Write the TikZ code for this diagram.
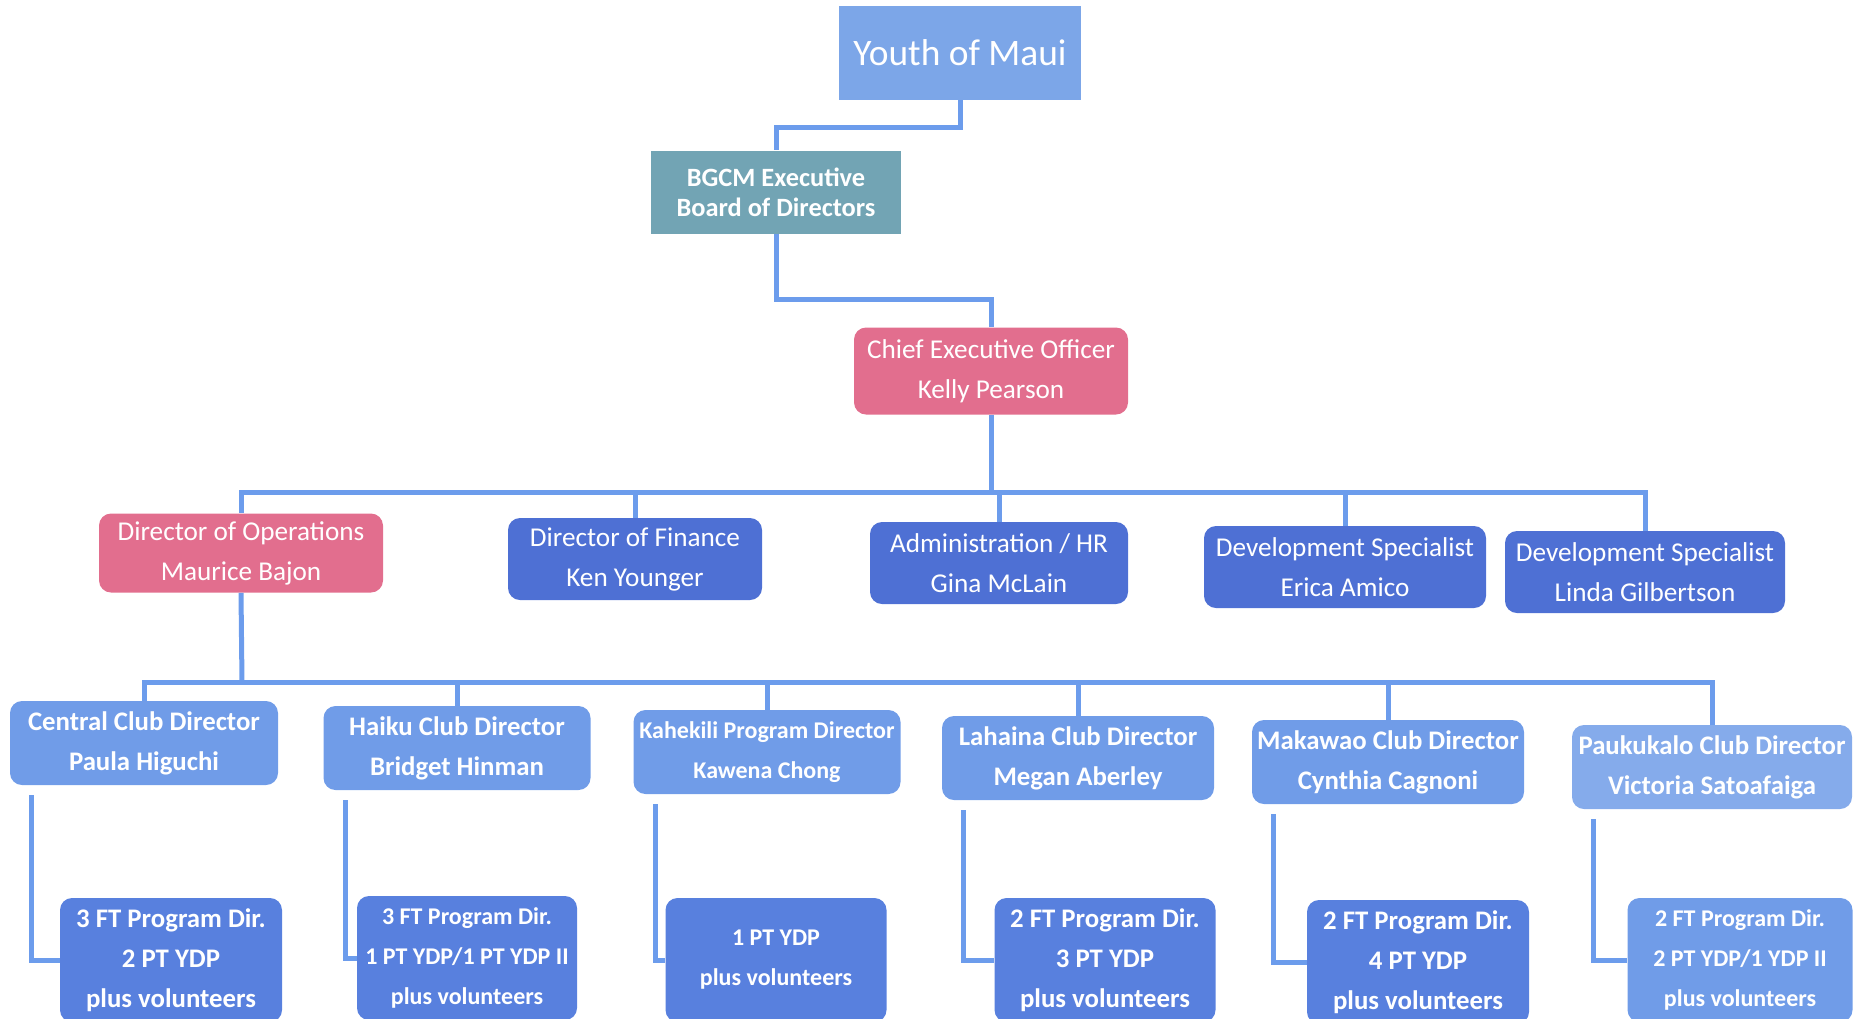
\documentclass[tikz,border=0pt]{standalone}
\usepackage{fontspec}
\setmainfont{Carlito}
\usetikzlibrary{positioning}
\definecolor{youthblue}{RGB}{124,166,232}
\definecolor{boardteal}{RGB}{114,164,180}
\definecolor{ceopink}{RGB}{226,110,142}
\definecolor{dirblue}{RGB}{78,112,212}
\definecolor{clubblue}{RGB}{112,156,232}
\definecolor{staffblue}{RGB}{88,128,222}
\definecolor{linkblue}{RGB}{108,156,236}
\tikzset{
  box/.style={text=white, align=center, inner sep=2pt,
    font=\fontsize{13.6}{20}\selectfont},
  roundbox/.style={box, rounded corners=6pt},
  dirbox/.style={roundbox, fill=dirblue, minimum height=41pt},
  clubbox/.style={roundbox, fill=clubblue, minimum height=42pt,
    font=\bfseries\fontsize{13.4}{20}\selectfont},
  staffbox/.style={roundbox, fill=staffblue, minimum height=62pt,
    minimum width=111pt, font=\bfseries\fontsize{13.4}{20}\selectfont},
  smalltext/.style={font=\bfseries\fontsize{12}{20}\selectfont},
  link/.style={draw=linkblue, line width=2.5pt}
}
\begin{document}
\begin{tikzpicture}[x=0.5pt,y=-0.5pt]
\useasboundingbox (0,0) rectangle (1866,1018);

% top of the chart
\node[box, fill=youthblue, minimum width=121pt, minimum height=47pt,
  font=\fontsize{18.7}{20}\selectfont] (youth) at (960,53) {Youth of Maui};
\node[box, fill=boardteal, minimum width=125pt, minimum height=41.5pt,
  font=\bfseries\fontsize{13.2}{15}\selectfont] (board) at (776,192)
  {BGCM Executive\\Board of Directors};
\node[roundbox, fill=ceopink, minimum width=137pt, minimum height=43.5pt]
  (ceo) at (991,371) {Chief Executive Officer\\Kelly Pearson};

\draw[link] (youth.south) -- ++(0,27) -| (board.north);
\draw[link] (board.south) -- ++(0,66) -| (ceo.north);

% directors
\node[roundbox, fill=ceopink, minimum width=142pt, minimum height=39.5pt]
  (ops) at (241,553) {Director of Operations\\Maurice Bajon};
\node[dirbox, minimum width=127pt] (fin) at (635,559) {Director of Finance\\Ken Younger};
\node[dirbox, minimum width=129pt] (adm) at (999,563) {Administration / HR\\Gina McLain};
\node[dirbox, minimum width=141pt] (devea) at (1345,567) {Development Specialist\\Erica Amico};
\node[dirbox, minimum width=140pt] (devlg) at (1645,572) {Development Specialist\\Linda Gilbertson};

\coordinate (busdir) at (991,492);
\draw[link] (ceo.south) -- (busdir);
\foreach \d in {ops,fin,adm,devea,devlg}
  \draw[link] (busdir) -| (\d.north);

% club directors
\node[clubbox, minimum width=134pt] (central) at (144,743) {Central Club Director\\Paula Higuchi};
\node[clubbox, minimum width=133.5pt] (haiku) at (457,748) {Haiku Club Director\\Bridget Hinman};
\node[clubbox, smalltext, minimum width=133.5pt] (kahekili) at (767,752) {Kahekili Program Director\\Kawena Chong};
\node[clubbox, minimum width=136pt] (lahaina) at (1078,758) {Lahaina Club Director\\Megan Aberley};
\node[clubbox, minimum width=136pt] (makawao) at (1388,762) {Makawao Club Director\\Cynthia Cagnoni};
\node[clubbox, minimum width=140pt, fill=clubblue!85!white] (paukukalo) at (1712,767) {Paukukalo Club Director\\Victoria Satoafaiga};

\coordinate (busclub) at (242,682);
\draw[link] (ops.south) -- (busclub);
\foreach \c in {central,haiku,kahekili,lahaina,makawao,paukukalo}
  \draw[link] (busclub) -| (\c.north);

% staff under each club
\node[staffbox] (scentral) at (171,960) {3 FT Program Dir.\\2 PT YDP\\plus volunteers};
\node[staffbox, smalltext, minimum width=110pt] (shaiku) at (467,958) {3 FT Program Dir.\\1 PT YDP/1 PT YDP II\\plus volunteers};
\node[staffbox, smalltext, minimum width=110.5pt] (skahekili) at (776,960) {1 PT YDP\\plus volunteers};
\node[staffbox, minimum width=110.5pt] (slahaina) at (1105,960) {2 FT Program Dir.\\3 PT YDP\\plus volunteers};
\node[staffbox] (smakawao) at (1418,962) {2 FT Program Dir.\\4 PT YDP\\plus volunteers};
\node[staffbox, smalltext, minimum width=112.5pt, fill=clubblue] (spaukukalo) at (1740,960) {2 FT Program Dir.\\2 PT YDP/1 YDP II\\plus volunteers};

\foreach \c/\s in {central/scentral,haiku/shaiku,kahekili/skahekili,
    lahaina/slahaina,makawao/smakawao,paukukalo/spaukukalo}
  \draw[link] ([xshift=11pt,yshift=-5pt]\c.south west) |- (\s.west);
\end{tikzpicture}
\end{document}
